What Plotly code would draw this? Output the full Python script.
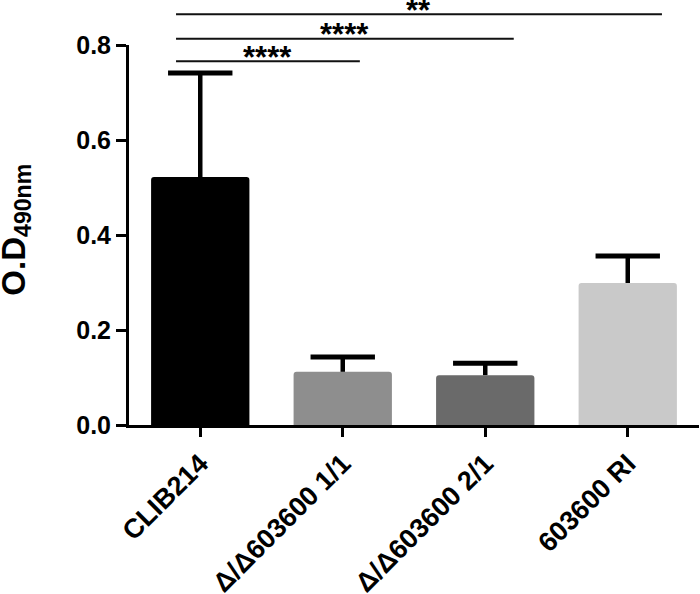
import plotly.graph_objects as go

categories = ["CLIB214", "Δ/Δ603600 1/1", "Δ/Δ603600 2/1", "603600 RI"]
means = [0.522, 0.112, 0.105, 0.299]
sd = [0.219, 0.031, 0.025, 0.057]
colors = ["#000000", "#8e8e8e", "#6a6a6a", "#c9c9c9"]

# significance comparisons: (start x, end x, y level, label)
sig_start = [-0.17, -0.17, -0.17]
sig_end = [1.12, 2.2, 3.24]
sig_level = [0.766, 0.813, 0.865]
sig_label = ["****", "****", "**"]

yrange = [0, 0.8]
yticks = [0.0, 0.2, 0.4, 0.6, 0.8]
ytitle = "O.D<sub>490nm</sub>"

xs = list(range(len(categories)))
tops = [m + s for m, s in zip(means, sd)]

fig = go.Figure()
fig.add_trace(go.Bar(
    x=xs, y=means,
    marker=dict(color=colors, line=dict(width=0), cornerradius=3),
    width=0.69,
    error_y=dict(type="data", array=sd, arrayminus=[0] * len(sd), symmetric=False,
                 color="#000000", thickness=4.5, width=0),
))
# error-bar caps (upper only)
fig.add_trace(go.Scatter(
    x=xs, y=tops, mode="markers", hoverinfo="skip",
    marker=dict(symbol="line-ew", size=46, color="#000000",
                line=dict(color="#000000", width=5)),
    cliponaxis=False,
))

font = dict(family="Liberation Sans, Arial, sans-serif", color="#000000")

for s, e, lv, lab in zip(sig_start, sig_end, sig_level, sig_label):
    yp = lv / yrange[1]
    fig.add_shape(type="line", xref="x", yref="paper", x0=s, x1=e, y0=yp, y1=yp,
                  line=dict(color="#111111", width=2))
    fig.add_annotation(xref="x", yref="paper", x=(s + e) / 2, y=yp, text=lab,
                       showarrow=False, yanchor="middle", yshift=4,
                       font=dict(**font, size=31, weight="bold"))

# y-axis title as a rotated annotation
fig.add_annotation(xref="paper", yref="paper", x=-0.199, y=0.513, text=ytitle,
                   textangle=-90, showarrow=False, xanchor="center", yanchor="middle",
                   font=dict(**font, size=33, weight="bold"))

fig.update_layout(
    width=700, height=594,
    margin=dict(l=129, r=1, t=45, b=169),
    paper_bgcolor="white", plot_bgcolor="white",
    showlegend=False,
    xaxis=dict(range=[-0.5, 3.5], tickmode="array", tickvals=xs,
               ticktext=categories, tickangle=-45, automargin=False,
               tickfont=dict(**font, size=27, weight="bold"),
               showline=True, linecolor="#000000", linewidth=3,
               ticks="outside", ticklen=9, tickwidth=3, tickcolor="#000000",
               showgrid=False, zeroline=False),
    yaxis=dict(range=yrange, tickmode="array", tickvals=yticks, automargin=False,
               ticktext=[f"{v:.1f}" for v in yticks],
               tickfont=dict(**font, size=25, weight="bold"),
               showline=True, linecolor="#000000", linewidth=3,
               ticks="outside", ticklen=10, tickwidth=3, tickcolor="#000000",
               showgrid=False, zeroline=False),
)

fig.write_html("out.html", config={"displayModeBar": False},
               post_script="document.body.style.margin='0';")
